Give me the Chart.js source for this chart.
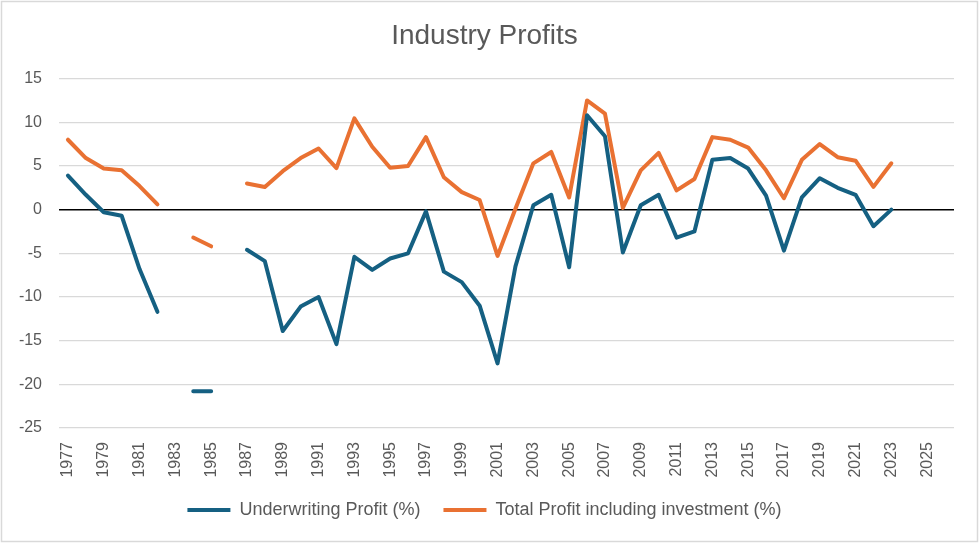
<!DOCTYPE html>
<html>
<head>
<meta charset="utf-8">
<title>Industry Profits</title>
<script src="https://cdn.jsdelivr.net/npm/chart.js@4/dist/chart.umd.min.js"></script>
<style>
    body { margin: 0; background: #fff; }
    #wrap { width: 979px; height: 543px; }
</style>
</head>
<body>
<div id="wrap"><canvas id="profits" width="979" height="543"></canvas></div>
<script>
// data
const years = ['1977', '1978', '1979', '1980', '1981', '1982', '1983', '1984', '1985', '1986',
    '1987', '1988', '1989', '1990', '1991', '1992', '1993', '1994', '1995', '1996',
    '1997', '1998', '1999', '2000', '2001', '2002', '2003', '2004', '2005', '2006',
    '2007', '2008', '2009', '2010', '2011', '2012', '2013', '2014', '2015', '2016',
    '2017', '2018', '2019', '2020', '2021', '2022', '2023', '2024', '2025', '2026'];

const underwriting = [3.9, 1.7, -0.3, -0.7, -6.8, -11.7, null, -20.8, -20.8, null,
    -4.6, -5.9, -13.9, -11.1, -10.0, -15.4, -5.4, -6.9, -5.6, -5.0,
    -0.2, -7.1, -8.3, -11.0, -17.6, -6.5, 0.5, 1.7, -6.6, 10.8,
    8.4, -4.9, 0.5, 1.7, -3.2, -2.5, 5.7, 5.9, 4.7, 1.6,
    -4.7, 1.4, 3.6, 2.5, 1.7, -1.9, 0.0, null, null, null];

const totalProfit = [8.0, 5.9, 4.7, 4.5, 2.7, 0.6, null, -3.2, -4.2, null,
    3.0, 2.6, 4.4, 5.9, 7.0, 4.75, 10.45, 7.2, 4.8, 5.0,
    8.3, 3.7, 2.0, 1.1, -5.3, 0.1, 5.3, 6.6, 1.4, 12.5,
    11.0, 0.2, 4.5, 6.5, 2.2, 3.5, 8.3, 8.0, 7.1, 4.5,
    1.3, 5.7, 7.5, 6.0, 5.6, 2.6, 5.3, null, null, null];

// only every second year gets a label
const tickYears = years.filter((y, i) => i % 2 === 0);

const seriesNames = ['Underwriting Profit (%)', 'Total Profit including investment (%)'];
const yMin = -25, yMax = 15, yStep = 5;

const grey = '#595959';
const font = 'Liberation Sans, Arial, sans-serif';

// white background + thin frame like the excel chart
const frame = {
    id: 'frame',
    beforeDraw(chart) {
        const ctx = chart.ctx;
        ctx.save();
        ctx.fillStyle = '#fff';
        ctx.fillRect(0, 0, chart.width, chart.height);
        ctx.strokeStyle = '#d9d9d9';
        ctx.lineWidth = 1.5;
        ctx.strokeRect(1.5, 1.5, chart.width - 3, chart.height - 3);
        ctx.restore();
    }
};

function lineSet(label, values, color) {
    return {
        label: label,
        data: values,
        borderColor: color,
        backgroundColor: color,
        borderWidth: 4,
        borderCapStyle: 'round',
        borderJoinStyle: 'round',
        pointRadius: 0,
        pointHoverRadius: 0,
        tension: 0,
        spanGaps: false
    };
}

new Chart(document.getElementById('profits'), {
    type: 'line',
    data: {
        labels: years,
        datasets: [
            lineSet(seriesNames[0], underwriting, '#156082'),
            lineSet(seriesNames[1], totalProfit, '#E97132')
        ]
    },
    options: {
        responsive: false,
        animation: false,
        layout: { padding: { left: 15, right: 25, top: 5, bottom: 14 } },
        scales: {
            x: {
                offset: true,
                grid: { display: false, drawTicks: false },
                border: { display: false },
                ticks: {
                    autoSkip: false,
                    minRotation: 90,
                    maxRotation: 90,
                    padding: 14,
                    color: grey,
                    font: { family: font, size: 16 },
                    callback: function (val, i) {
                        return tickYears.includes(years[i]) ? years[i] : '';
                    }
                },
                // rotated labels need no side room
                afterFit: function (scale) {
                    scale.paddingLeft = 0;
                    scale.paddingRight = 0;
                    scale.height = 50;
                }
            },
            y: {
                min: yMin,
                max: yMax,
                grid: {
                    drawTicks: false,
                    color: (c) => c.tick && c.tick.value === 0 ? '#000000' : '#d9d9d9',
                    lineWidth: (c) => c.tick && c.tick.value === 0 ? 1.6 : 1.3
                },
                border: { display: false },
                ticks: {
                    stepSize: yStep,
                    padding: 17,
                    color: grey,
                    font: { family: font, size: 16 }
                },
                afterFit: function (scale) { scale.width = 44; }
            }
        },
        plugins: {
            title: {
                display: true,
                text: 'Industry Profits',
                color: grey,
                font: { family: font, size: 28, weight: 'normal' },
                padding: { top: 14, bottom: 26 }
            },
            legend: {
                position: 'bottom',
                labels: {
                    usePointStyle: true,
                    pointStyle: 'line',
                    pointStyleWidth: 43,
                    padding: 23,
                    color: grey,
                    font: { family: font, size: 18 }
                }
            },
            tooltip: { enabled: false }
        }
    },
    plugins: [frame]
});
</script>
</body>
</html>
